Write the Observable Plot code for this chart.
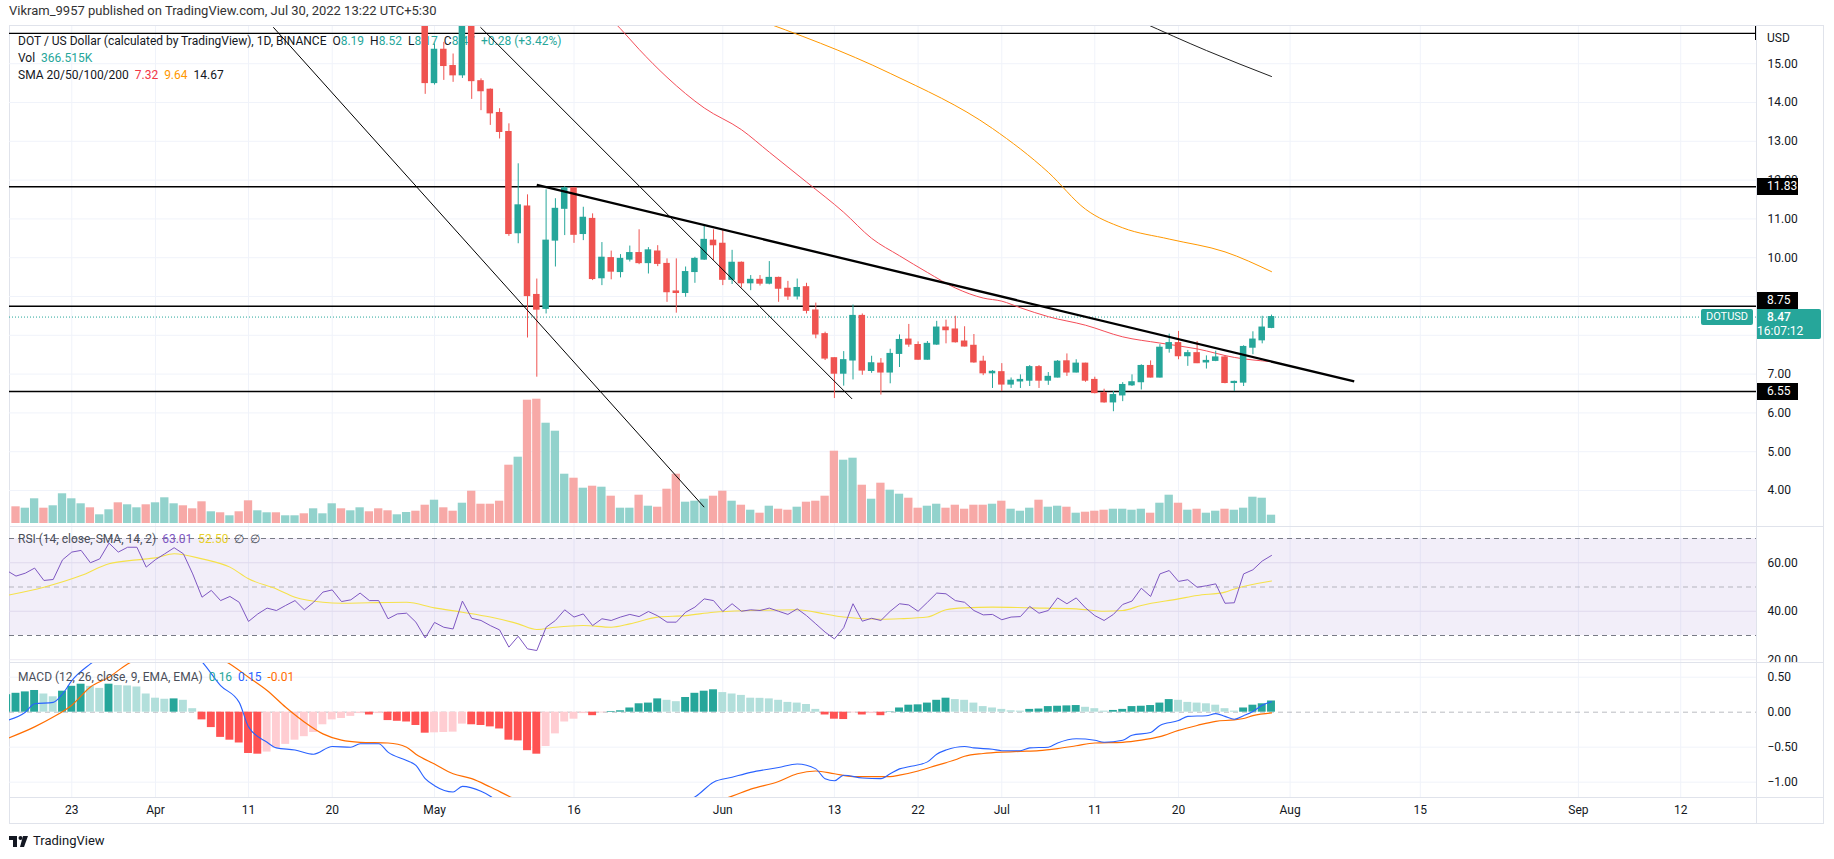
<!DOCTYPE html>
<html><head><meta charset="utf-8">
<script src="https://cdn.jsdelivr.net/npm/d3@7"></script>
<script src="https://cdn.jsdelivr.net/npm/@observablehq/plot@0.6"></script>
<style>
body{margin:0;background:#fff;}
#root{position:relative;width:1834px;height:859px;overflow:hidden;font-family:Roboto,"Liberation Sans",Arial,sans-serif;color:#131722;}
.abs{position:absolute;white-space:pre;}
.up{color:#26a69a}
</style></head>
<body><div id="root"></div>
<script>
// ---------------- DATA ----------------
const candleStart = "2022-04-30";
const candleOpen = [16.6,
 14.50,15.36,14.94,14.70,16.25,14.55,14.33,13.73,13.24,10.63,11.32,9.04,8.68,10.44,11.26,11.79,10.61,11.00,9.47,9.99,9.63,9.95,10.12,9.86,10.16,9.84,9.13,9.09,9.63,9.95,10.44,
 10.36,9.43,9.87,9.34,9.43,9.33,9.48,9.20,9.00,9.24,8.64,8.03,7.41,7.01,7.35,8.50,7.08,7.27,7.04,7.52,7.89,7.75,7.37,7.76,8.20,8.15,7.84,7.73,7.32,7.02,
 7.05,6.73,6.81,6.83,7.18,6.83,6.91,7.33,7.04,7.27,6.85,6.51,6.27,6.45,6.71,6.79,7.21,6.91,7.65,7.80,7.46,7.54,7.30,7.34,7.43,6.77,6.78,7.68,7.87,8.19];
const candleHigh = [16.9,
 15.51,15.55,15.25,16.6,16.5,14.61,14.35,13.84,13.45,12.42,11.62,9.45,11.75,11.52,11.83,11.80,11.30,11.13,10.39,10.17,10.08,10.30,10.72,10.26,10.31,9.97,9.97,9.76,10.01,10.83,10.72,
 10.72,10.19,9.89,9.54,9.54,9.90,9.50,9.39,9.45,9.34,8.83,8.08,7.42,7.58,8.78,8.55,7.46,7.40,7.64,8.01,8.28,7.83,7.84,8.36,8.39,8.49,8.22,8.02,7.46,7.09,
 7.27,6.90,6.98,7.22,7.22,7.04,7.35,7.52,7.37,7.28,6.92,6.61,6.55,6.78,6.98,7.24,7.34,7.76,8.03,8.10,7.61,7.84,7.47,7.59,7.46,6.82,7.73,8.09,8.49,8.52];
const candleLow = [14.21,
 14.45,14.57,14.52,14.62,14.08,13.79,13.41,13.06,10.55,10.36,7.93,6.92,8.55,9.76,10.57,10.37,10.44,9.41,9.28,9.43,9.48,9.89,9.82,9.58,9.77,8.85,8.57,8.98,9.34,9.93,9.93,
 9.28,9.31,9.22,9.15,9.27,9.30,8.85,8.90,8.91,8.55,7.91,7.35,6.37,6.69,6.85,6.97,7.02,6.46,6.75,7.17,7.69,7.36,7.36,7.74,7.78,7.80,7.70,7.28,6.96,6.63,
 6.55,6.63,6.63,6.68,6.63,6.71,6.90,6.94,7.03,6.79,6.49,6.25,6.03,6.29,6.68,6.59,6.90,6.90,7.54,7.37,7.20,7.27,7.13,7.32,6.75,6.55,6.68,7.50,7.78,8.17];
const candleClose = [14.50,
 15.36,14.94,14.70,16.25,14.55,14.29,13.72,13.24,10.61,11.35,9.01,8.66,10.44,11.26,11.79,10.59,11.03,9.45,10.00,9.64,9.97,10.12,9.86,10.19,9.84,9.11,9.09,9.63,9.97,10.46,10.32,
 9.43,9.87,9.34,9.43,9.33,9.48,9.20,9.00,9.22,8.63,8.02,7.40,7.01,7.36,8.50,7.09,7.28,7.04,7.52,7.88,7.76,7.37,7.78,8.20,8.13,7.82,7.71,7.30,7.02,7.06,
 6.73,6.83,6.85,7.18,6.83,6.93,7.32,7.04,7.27,6.83,6.51,6.27,6.46,6.72,6.79,7.21,6.91,7.68,7.80,7.46,7.54,7.28,7.34,7.43,6.77,6.80,7.70,7.89,8.20,8.47];

const volumeStart = "2022-03-17";
const volumeK = [737,676,1091,676,782,1312,1091,870,693,384,605,914,826,693,826,
 914,1135,870,782,649,958,517,473,340,517,1002,561,473,473,340,340,428,649,428,870,649,561,693,517,649,561,384,486,543,808,
 1029,693,543,896,1426,852,852,985,2575,2928,5445,5489,4429,4076,2177,2000,1559,1647,1603,1206,676,676,1250,764,720,1515,2177,941,985,1073,1206,
 1426,985,808,587,455,764,631,587,720,941,985,1206,3193,2795,2884,1691,1073,1780,1471,1294,1117,676,764,852,676,808,631,808,808,852,
 985,631,543,676,1029,720,764,720,455,499,543,587,631,631,587,631,455,896,1250,896,587,631,455,543,631,587,676,1161,1117,367];
const volumeUp = [0,1,1,0,1,1,1,1,0,1,1,0,1,1,0,
 1,1,1,0,0,0,1,0,1,0,0,1,1,0,1,1,0,1,1,1,0,1,1,0,0,0,1,1,0,0,
 1,0,0,1,0,0,0,0,0,1,0,0,1,1,1,0,1,0,1,0,1,1,0,1,0,0,0,1,1,1,0,
 0,1,0,1,0,1,0,0,1,0,0,0,0,1,1,0,1,0,1,1,0,0,1,1,0,0,0,0,0,1,
 0,1,1,1,0,1,1,0,1,0,0,0,1,1,1,1,0,1,1,0,1,0,1,1,0,1,1,1,1,1];

const sma50Dates = ["2022-05-18","2022-05-21","2022-05-23","2022-05-26","2022-05-30","2022-06-03","2022-06-06","2022-06-10","2022-06-14","2022-06-17","2022-06-20","2022-06-23","2022-06-26","2022-06-29","2022-07-01","2022-07-03","2022-07-06","2022-07-10","2022-07-14","2022-07-18","2022-07-22","2022-07-26","2022-07-30"];
const sma50Values = [16.6,15.9,15.37,14.65,13.86,13.3,12.72,11.95,11.17,10.5,10.05,9.62,9.22,8.96,8.88,8.71,8.48,8.26,7.96,7.80,7.65,7.43,7.32];
const sma100Dates = ["2022-06-04","2022-06-19","2022-06-30","2022-07-06","2022-07-10","2022-07-14","2022-07-19","2022-07-25","2022-07-30"];
const sma100Values = [16.2,14.75,13.33,12.2,11.25,10.77,10.48,10.15,9.64];
const sma200Dates = ["2022-07-16","2022-07-23","2022-07-30"];
const sma200Values = [16.08,15.34,14.67];

const levelPrices = [11.83, 8.75, 6.55];
const topLevelPrice = 15.78;
const trendStart = ["2022-04-13T16:00Z","2022-05-05T22:30Z","2022-05-12T00:00Z"];
const trendStartPrice = [15.94, 15.94, 11.88];
const trendEnd = ["2022-05-30T00:00Z","2022-06-14T21:40Z","2022-08-07T21:30Z"];
const trendEndPrice = [3.57, 6.36, 6.81];
const trendWidth = [1, 1, 2.3];

const priceTicks = [4,5,6,7,8,9,10,11,12,13,14,15];
const priceLabelTicks = [4,5,6,7,10,11,12,13,14,15];
const timeTickDates = ["2022-03-23","2022-04-01","2022-04-11","2022-04-20","2022-05-01","2022-05-16","2022-06-01","2022-06-13","2022-06-22","2022-07-01","2022-07-11","2022-07-20","2022-08-01","2022-08-15","2022-09-01","2022-09-12"];
const timeTickLabels = ["23","Apr","11","20","May","16","Jun","13","22","Jul","11","20","Aug","15","Sep","12"];

const rsiStart = "2022-03-16";
const rsiValues = [56.8,54.5,55.7,57.8,52.7,53.1,61.2,64.4,65.1,60.0,61.6,68.1,64.4,66.4,66.4,58.2,
 61.3,63.7,66.2,63.7,55.4,45.8,48.6,44.4,46.1,43.7,35.8,38.9,41.3,40.3,42.4,44.4,40.6,43.7,47.9,48.8,44.0,44.7,47.5,44.4,44.4,36.9,38.9,39.2,35.5,29.0,
 35.4,33.4,32.7,44.2,37.1,36.2,34.1,32.3,25.2,29.7,24.5,23.8,33.4,36.2,40.6,37.6,38.9,34.1,36.9,36.2,37.6,38.7,37.8,39.9,38.1,35.5,35.5,39.6,41.7,45.1,44.4,
 39.9,43.1,40.0,40.6,40.3,41.3,40.0,38.7,41.0,38.2,34.8,31.4,28.6,33.2,43.1,35.9,37.1,36.2,40.0,43.1,42.6,40.0,43.7,47.5,47.2,44.4,43.7,40.3,38.5,38.7,
 36.5,37.6,37.8,42.0,39.2,40.3,45.5,43.1,45.5,41.4,38.2,36.2,38.7,42.8,44.2,49.5,46.1,55.4,56.8,52.3,53.0,49.9,50.5,51.3,43.3,43.5,55.4,57.1,60.7,63.01];
const rsiMaDates = ["2022-03-16","2022-03-20","2022-03-24","2022-03-27","2022-03-30","2022-04-01","2022-04-03","2022-04-06","2022-04-09","2022-04-11","2022-04-14","2022-04-16","2022-04-19","2022-04-21","2022-04-24","2022-04-28","2022-05-01","2022-05-04","2022-05-07","2022-05-10","2022-05-12","2022-05-14","2022-05-17","2022-05-20","2022-05-22","2022-05-25","2022-05-28","2022-05-31","2022-06-04","2022-06-09","2022-06-12","2022-06-14","2022-06-18","2022-06-20","2022-06-23","2022-06-25","2022-06-27","2022-06-30","2022-07-04","2022-07-09","2022-07-12","2022-07-14","2022-07-16","2022-07-20","2022-07-22","2022-07-25","2022-07-26","2022-07-30"];
const rsiMaValues = [46.5,49.9,54.7,59.6,61.2,62.0,63.7,61.6,58.2,53.4,49.2,45.8,43.7,43.3,43.5,43.7,41.4,39.6,37.6,34.8,32.5,33.4,34.1,33.4,34.8,37.6,38.2,39.6,40.3,40.6,38.9,37.6,36.7,36.9,37.6,40.6,41.4,41.7,41.4,41.0,40.0,40.3,42.4,45.1,46.5,47.9,49.2,52.5];
const rsiBands = [{lo:30, hi:70}];

const macdStart = "2022-03-16";
const macdHist = [0.25,0.27,0.29,0.31,0.26,0.22,0.30,0.37,0.40,0.37,0.34,0.40,0.38,0.375,0.36,0.26,
 0.20,0.185,0.19,0.17,0.05,-0.11,-0.22,-0.36,-0.40,-0.44,-0.59,-0.60,-0.57,-0.51,-0.46,-0.40,-0.35,-0.29,-0.18,-0.11,-0.09,-0.06,-0.02,-0.04,-0.02,-0.12,-0.13,-0.14,-0.19,-0.30,
 -0.295,-0.29,-0.285,-0.17,-0.18,-0.19,-0.21,-0.24,-0.40,-0.41,-0.55,-0.60,-0.49,-0.31,-0.14,-0.10,-0.02,-0.05,-0.01,0.01,0.02,0.06,0.12,0.13,0.19,0.17,0.15,0.21,0.27,0.30,0.32,
 0.28,0.26,0.24,0.20,0.198,0.19,0.17,0.14,0.13,0.11,0.04,-0.04,-0.10,-0.105,-0.01,-0.04,-0.02,-0.05,0.005,0.06,0.10,0.105,0.13,0.17,0.20,0.18,0.17,0.13,0.08,0.06,
 0.04,0.02,0.015,0.04,0.045,0.08,0.085,0.09,0.095,0.07,0.05,0.015,0.025,0.04,0.08,0.085,0.095,0.13,0.18,0.17,0.14,0.13,0.12,0.10,0.05,0.015,0.06,0.10,0.12,0.16];
const macdDates = ["2022-03-16","2022-03-18","2022-03-19","2022-03-21","2022-03-22","2022-03-23","2022-03-25","2022-03-28","2022-04-01","2022-04-04","2022-04-06","2022-04-08","2022-04-10","2022-04-11","2022-04-13","2022-04-14","2022-04-16","2022-04-18","2022-04-20","2022-04-22","2022-04-23","2022-04-25","2022-04-26","2022-04-28","2022-04-29","2022-04-30","2022-05-01","2022-05-03","2022-05-04","2022-05-06","2022-05-07","2022-05-09","2022-05-12","2022-05-16","2022-05-20","2022-05-25","2022-05-29","2022-05-31","2022-06-02","2022-06-04","2022-06-07","2022-06-09","2022-06-11","2022-06-12","2022-06-13","2022-06-14","2022-06-16","2022-06-18","2022-06-19","2022-06-20","2022-06-21","2022-06-23","2022-06-24","2022-06-25","2022-06-27","2022-06-28","2022-06-30","2022-07-01","2022-07-03","2022-07-04","2022-07-06","2022-07-07","2022-07-09","2022-07-11","2022-07-12","2022-07-14","2022-07-15","2022-07-17","2022-07-18","2022-07-20","2022-07-21","2022-07-23","2022-07-24","2022-07-25","2022-07-26","2022-07-27","2022-07-28","2022-07-29","2022-07-30"];
const macdValues = [-0.12,0.00,0.12,0.14,0.26,0.45,0.69,0.95,1.05,0.95,0.72,0.38,0.14,-0.21,-0.43,-0.51,-0.54,-0.60,-0.49,-0.50,-0.45,-0.45,-0.57,-0.69,-0.76,-0.95,-1.05,-1.14,-1.06,-1.13,-1.20,-1.45,-1.9,-1.7,-1.55,-1.35,-1.21,-1.00,-0.93,-0.86,-0.79,-0.74,-0.81,-0.95,-0.98,-0.90,-0.94,-0.95,-0.88,-0.81,-0.78,-0.71,-0.60,-0.54,-0.49,-0.51,-0.53,-0.55,-0.55,-0.51,-0.50,-0.44,-0.38,-0.40,-0.43,-0.40,-0.33,-0.29,-0.19,-0.12,-0.06,-0.05,-0.02,-0.06,-0.10,-0.05,0.01,0.10,0.15];
const signalDates = ["2022-03-16","2022-03-19","2022-03-21","2022-03-23","2022-03-25","2022-03-27","2022-03-29","2022-04-02","2022-04-05","2022-04-07","2022-04-09","2022-04-11","2022-04-13","2022-04-15","2022-04-17","2022-04-19","2022-04-21","2022-04-23","2022-04-26","2022-04-28","2022-04-29","2022-05-01","2022-05-03","2022-05-05","2022-05-07","2022-05-09","2022-05-13","2022-05-18","2022-05-24","2022-05-29","2022-06-02","2022-06-04","2022-06-07","2022-06-09","2022-06-11","2022-06-13","2022-06-15","2022-06-19","2022-06-20","2022-06-22","2022-06-24","2022-06-26","2022-06-27","2022-06-29","2022-07-01","2022-07-03","2022-07-05","2022-07-07","2022-07-09","2022-07-11","2022-07-14","2022-07-16","2022-07-18","2022-07-20","2022-07-22","2022-07-24","2022-07-26","2022-07-27","2022-07-28","2022-07-30"];
const signalValues = [-0.38,-0.21,-0.07,0.10,0.36,0.50,0.69,0.85,0.88,0.82,0.69,0.50,0.31,0.07,-0.14,-0.31,-0.40,-0.43,-0.44,-0.50,-0.60,-0.74,-0.88,-0.95,-1.07,-1.20,-1.45,-1.6,-1.5,-1.35,-1.20,-1.10,-0.99,-0.88,-0.84,-0.88,-0.92,-0.92,-0.90,-0.84,-0.76,-0.68,-0.63,-0.59,-0.57,-0.56,-0.55,-0.52,-0.48,-0.44,-0.43,-0.40,-0.35,-0.26,-0.19,-0.13,-0.11,-0.09,-0.05,-0.01];

const rsiTicks = [60, 40, 20];
const macdTicks = [0.5, 0, -0.5, -1];

// ---------------- LAYOUT ----------------
const W = 1834, ML = 9, MR = 78;
const DAY = 864e5;
const JUN1 = Date.UTC(2022, 5, 1);
const xDomain = [new Date(JUN1 - 76.7 * DAY), new Date(JUN1 + 111.15 * DAY)];
const PANES = {price: {top: 26, h: 500}, rsi: {top: 526, h: 136}, macd: {top: 662, h: 135}, time: {top: 797, h: 26}};
const FONT = 'Roboto, "Liberation Sans", Arial, sans-serif';
const UP = "#26a69a", DOWN = "#ef5350", GRID = "#f0f3fa", BORDER = "#e0e3eb", TXT = "#131722";

const parse = d3.utcParse("%Y-%m-%d");
const days = (start, n) => d3.utcDay.range(parse(start), d3.utcDay.offset(parse(start), n));
const shift = (d, f) => new Date(+d + f * DAY);
const isoDate = s => s.length > 10 ? new Date(s) : parse(s);

const candles = days(candleStart, candleOpen.length).map((date, i) => ({date, open: candleOpen[i], high: candleHigh[i], low: candleLow[i], close: candleClose[i]}));
const volumes = days(volumeStart, volumeK.length).map((date, i) => ({date, v: volumeK[i], up: volumeUp[i]}));
const pairs = (ds, vs) => ds.map((d, i) => ({date: isoDate(d), v: vs[i]}));
const sma50 = pairs(sma50Dates, sma50Values), sma100 = pairs(sma100Dates, sma100Values), sma200 = pairs(sma200Dates, sma200Values);
const rsi = days(rsiStart, rsiValues.length).map((date, i) => ({date, v: rsiValues[i]}));
const rsiMa = pairs(rsiMaDates, rsiMaValues);
const hist = days(macdStart, macdHist.length).map((date, i) => {
  const v = macdHist[i], p = i ? macdHist[i - 1] : v;
  return {date, v, color: v >= 0 ? (v >= p ? "#26a69a" : "#b2dfdb") : (v < p ? "#ff5252" : "#ffcdd2")};
});
const macdLine = pairs(macdDates, macdValues), signalLine = pairs(signalDates, signalValues);
const trends = trendStart.map((s, i) => ({x1: isoDate(s), y1: trendStartPrice[i], x2: isoDate(trendEnd[i]), y2: trendEndPrice[i], w: trendWidth[i]}));
const timeTicks = timeTickDates.map((d, i) => ({date: parse(d), label: timeTickLabels[i]}));
const tickDates = timeTicks.map(d => d.date);
const last = candles[candles.length - 1];

const root = document.getElementById("root");
function div(style, html = "") {
  const e = document.createElement("div");
  e.className = "abs";
  e.setAttribute("style", style);
  e.innerHTML = html;
  root.appendChild(e);
  return e;
}
function pane(p, y, marks, extra = {}) {
  const svg = Plot.plot({
    width: W, height: p.h, marginLeft: ML, marginRight: MR, marginTop: 0, marginBottom: extra.marginBottom ?? 0,
    x: {type: "utc", domain: xDomain, axis: null},
    y,
    style: {background: "transparent", fontFamily: FONT, fontSize: "12px", color: TXT, overflow: "hidden"},
    marks
  });
  svg.style.position = "absolute";
  svg.style.left = "0px";
  svg.style.top = p.top + "px";
  root.appendChild(svg);
  return svg;
}

// header
div(`left:9px;top:3px;font-size:13px;color:#333;`, "Vikram_9957 published on TradingView.com, Jul 30, 2022 13:22 UTC+5:30");

// frame
div(`left:9px;top:25px;width:1813px;height:797px;border:1px solid ${BORDER};`);

// price background grid
pane(PANES.price, {domain: [3.072, 15.959], axis: null}, [
  Plot.ruleX(tickDates, {stroke: GRID}),
  Plot.ruleY(priceTicks, {stroke: GRID})
]);
// volume
pane(PANES.price, {domain: [0, 21948], axis: null}, [
  Plot.rect(volumes, {x1: d => shift(d.date, -0.5), x2: d => shift(d.date, 0.5), y1: 0, y2: "v",
    fill: d => d.up ? "#92d2cc" : "#f7a9a7", insetLeft: 0.5, insetRight: 0.5, clip: true})
], {marginBottom: 3});

// legend
div(`left:18px;top:33px;font-size:12px;line-height:17px;`,
  `DOT / US Dollar (calculated by TradingView), 1D, BINANCE&nbsp; O<span class="up">${last.open.toFixed(2)}</span>&nbsp; H<span class="up">${last.high.toFixed(2)}</span>&nbsp; L<span class="up">${last.low.toFixed(2)}</span>&nbsp; C<span class="up">${last.close.toFixed(2)}</span>&nbsp; <span class="up">+0.28 (+3.42%)</span><br>` +
  `Vol&nbsp; <span class="up">366.515K</span><br>` +
  `SMA 20/50/100/200&nbsp; <span style="color:#f23645">${sma50Values[sma50Values.length-1].toFixed(2)}</span>&nbsp; <span style="color:#ff9800">${sma100Values[sma100Values.length-1].toFixed(2)}</span>&nbsp; <span>${sma200Values[sma200Values.length-1].toFixed(2)}</span>`);

// price foreground
const colorOf = d => d.close >= d.open ? UP : DOWN;
const pricePlot = pane(PANES.price, {domain: [3.072, 15.959]}, [
  Plot.ruleY([last.close], {stroke: UP, strokeDasharray: "1,2"}),
  Plot.ruleY(levelPrices, {stroke: "#000", strokeWidth: 1.6}),
  Plot.ruleY([topLevelPrice], {stroke: "#000", strokeWidth: 1.3}),
  Plot.line(sma200, {x: "date", y: "v", stroke: "#222", strokeWidth: 1, curve: "monotone-x", clip: true}),
  Plot.line(sma100, {x: "date", y: "v", stroke: "#ff9800", strokeWidth: 1, curve: "monotone-x", clip: true}),
  Plot.line(sma50, {x: "date", y: "v", stroke: "#f44d58", strokeWidth: 1, curve: "monotone-x", clip: true}),
  Plot.ruleX(candles, {x: "date", y1: "low", y2: "high", stroke: colorOf, clip: true}),
  Plot.rect(candles, {x1: d => shift(d.date, -0.35), x2: d => shift(d.date, 0.35), y1: "open", y2: "close", fill: colorOf, insetTop: -0.5, insetBottom: -0.5, clip: true}),
  Plot.link(trends, {x1: "x1", y1: "y1", x2: "x2", y2: "y2", stroke: "#000", strokeWidth: "w", clip: true}),
  Plot.axisY(priceLabelTicks, {anchor: "right", tickSize: 0, tickPadding: 11, tickFormat: d => d.toFixed(2), label: null, fill: TXT})
]);
const yP = v => PANES.price.top + pricePlot.scale("y").apply(v);

div(`left:1767px;top:31px;font-size:12px;`, "USD");
div(`left:1755px;top:${yP(topLevelPrice) - 7}px;width:1px;height:14px;background:#000;`);
// level price labels
const tealTop = yP(last.close) - 8;
for (const p of levelPrices) {
  let top = yP(p) - 8.5;
  if (top + 17 > tealTop && top < tealTop + 30) top = tealTop - 17;
  div(`left:1757px;top:${top}px;width:41px;height:17px;background:#000;color:#fff;font-size:12px;line-height:17px;text-indent:10px;`, p.toFixed(2));
}
div(`left:1757px;top:${tealTop}px;width:64px;height:30px;background:${UP};color:#fff;font-size:12px;line-height:14px;text-indent:10px;border-radius:0 2px 2px 0;padding-top:1px;box-sizing:border-box;`,
  `<b style="font-weight:500">${last.close.toFixed(2)}</b><br>16:07:12`);
div(`left:1701px;top:${yP(last.close) - 7.5}px;width:52px;height:16px;background:${UP};color:#fff;font-size:11px;line-height:16px;text-align:center;border-radius:2px;`, "DOTUSD");

// RSI pane
pane(PANES.rsi, {domain: [18.87, 74.95]}, [
  Plot.ruleX(tickDates, {stroke: GRID}),
  Plot.ruleY(rsiTicks, {stroke: "#ebe9f2"}),
  Plot.rect(rsiBands, {x1: () => xDomain[0], x2: () => xDomain[1], y1: "lo", y2: "hi", fill: "#7e57c2", fillOpacity: 0.1}),
  Plot.ruleY([70, 30], {stroke: "#787b86", strokeDasharray: "5,4"}),
  Plot.ruleY([50], {stroke: "#787b86", strokeOpacity: 0.5, strokeDasharray: "5,4"}),
  Plot.line(rsiMa, {x: "date", y: "v", stroke: "#f5e14a", strokeWidth: 1.1, curve: "monotone-x", clip: true}),
  Plot.line(rsi, {x: "date", y: "v", stroke: "#7e57c2", strokeWidth: 1, clip: true}),
  Plot.axisY(rsiTicks, {anchor: "right", tickSize: 0, tickPadding: 11, tickFormat: d => d.toFixed(2), label: null, fill: TXT})
]);
div(`left:18px;top:531px;font-size:12px;line-height:16px;color:#4a4e59;`,
  `RSI (14, close, SMA, 14, 2)&nbsp; <span style="color:#7e57c2">${rsiValues[rsiValues.length-1].toFixed(2)}</span>&nbsp; <span style="color:#e8cf2c">${rsiMaValues[rsiMaValues.length-1].toFixed(2)}</span>&nbsp; ∅&nbsp; ∅`);

// MACD pane
pane(PANES.macd, {domain: [-1.219, 0.71]}, [
  Plot.ruleX(tickDates, {stroke: GRID}),
  Plot.ruleY(macdTicks.filter(d => d !== 0), {stroke: GRID}),
  Plot.ruleY([0], {stroke: "#787b86", strokeOpacity: 0.5, strokeDasharray: "5,4"}),
  Plot.rect(hist, {x1: d => shift(d.date, -0.5), x2: d => shift(d.date, 0.5), y1: 0, y2: "v", fill: "color", insetLeft: 0.7, insetRight: 0.7, clip: true}),
  Plot.line(signalLine, {x: "date", y: "v", stroke: "#ff6d00", strokeWidth: 1.2, curve: "monotone-x", clip: true}),
  Plot.line(macdLine, {x: "date", y: "v", stroke: "#2962ff", strokeWidth: 1.1, curve: "monotone-x", clip: true}),
  Plot.axisY(macdTicks, {anchor: "right", tickSize: 0, tickPadding: 11, tickFormat: d => d3.format(".2f")(d).replace("-", "\u2212"), label: null, fill: TXT})
]);
div(`left:18px;top:669px;font-size:12px;line-height:16px;color:#4a4e59;`,
  `MACD (12, 26, close, 9, EMA, EMA)&nbsp; <span style="color:#26a69a">${macdHist[macdHist.length-1].toFixed(2)}</span>&nbsp; <span style="color:#2962ff">${macdValues[macdValues.length-1].toFixed(2)}</span>&nbsp; <span style="color:#ff6d00">${signalValues[signalValues.length-1].toFixed(2)}</span>`);

// time axis
pane(PANES.time, {domain: [0, 1], axis: null}, [
  Plot.text(timeTicks, {x: "date", text: "label", frameAnchor: "middle", fontSize: 12, fill: TXT})
]);

// separators
div(`left:9px;top:526px;width:1814px;height:1px;background:${BORDER};`);
div(`left:9px;top:662px;width:1814px;height:1px;background:${BORDER};`);
div(`left:9px;top:797px;width:1814px;height:1px;background:${BORDER};`);
div(`left:1756px;top:25px;width:1px;height:798px;background:${BORDER};`);

// footer
div(`left:9px;top:834px;`, `<svg width="22" height="14" viewBox="0 0 22 14"><rect x="0" y="1" width="8" height="4" fill="#131722"/><rect x="4" y="1" width="4" height="11" fill="#131722"/><circle cx="11.5" cy="3" r="2" fill="#131722"/><polygon points="14,1 19,1 15,12 11,12" fill="#131722"/></svg>`);
div(`left:33px;top:832px;font-size:13px;line-height:18px;color:#131722;`, "TradingView");
</script></body></html>
